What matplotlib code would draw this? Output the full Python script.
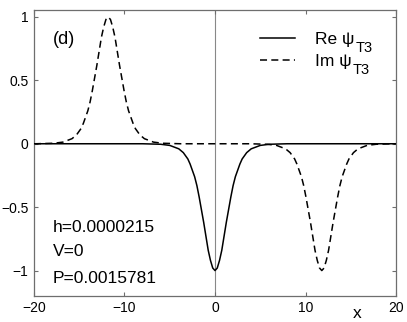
import matplotlib
matplotlib.use("Agg")
import matplotlib.pyplot as plt

# --- data ---
re_x = [-20, -8, -6, -5, -4, -3.5, -3, -2.75, -2.5, -2.25, -2, -1.75, -1.5, -1.25,
        -1, -0.75, -0.5, -0.25, 0, 0.25, 0.5, 0.75, 1, 1.25, 1.5, 1.75, 2, 2.25,
        2.5, 2.75, 3, 3.5, 4, 5, 6, 8, 20]
re_y = [0, 0, -0.004, -0.013, -0.04, -0.07, -0.12, -0.16, -0.21, -0.26, -0.33, -0.42,
        -0.52, -0.62, -0.73, -0.84, -0.92, -0.98, -1.0, -0.98, -0.92, -0.84, -0.73,
        -0.62, -0.52, -0.42, -0.33, -0.26, -0.21, -0.16, -0.12, -0.07, -0.04,
        -0.013, -0.004, 0, 0]

im_x = [-20, -19.8, -17.8, -16.8, -15.8, -15.3, -14.8, -14.55, -14.3, -14.05, -13.8,
        -13.55, -13.3, -13.05, -12.8, -12.55, -12.3, -12.05, -11.8, -11.55, -11.3,
        -11.05, -10.8, -10.55, -10.3, -10.05, -9.8, -9.55, -9.3, -9.05, -8.8, -8.3,
        -7.8, -6.8, -5.8, -3.8,
        3.8, 5.8, 6.8, 7.8, 8.3, 8.8, 9.05, 9.3, 9.55, 9.8, 10.05, 10.3, 10.55, 10.8,
        11.05, 11.3, 11.55, 11.8, 12.05, 12.3, 12.55, 12.8, 13.05, 13.3, 13.55, 13.8,
        14.05, 14.3, 14.55, 14.8, 15.3, 15.8, 16.8, 17.8, 19.8, 20]
im_y = [0, 0, 0.004, 0.013, 0.04, 0.07, 0.12, 0.16, 0.21, 0.26, 0.33, 0.42, 0.52,
        0.62, 0.73, 0.84, 0.92, 0.98, 1.0, 0.98, 0.92, 0.84, 0.73, 0.62, 0.52, 0.42,
        0.33, 0.26, 0.21, 0.16, 0.12, 0.07, 0.04, 0.013, 0.004, 0,
        0, -0.004, -0.013, -0.04, -0.07, -0.12, -0.16, -0.21, -0.26, -0.33, -0.42,
        -0.52, -0.62, -0.73, -0.84, -0.92, -0.98, -1.0, -0.98, -0.92, -0.84, -0.73,
        -0.62, -0.52, -0.42, -0.33, -0.26, -0.21, -0.16, -0.12, -0.07, -0.04,
        -0.013, -0.004, 0, 0]

x_ticks = [-20, -10, 0, 10, 20]
y_ticks = [-1, -0.5, 0, 0.5, 1]
y_tick_labels = ["\u22121", "\u22120.5", "0", "0.5", "1"]
x_tick_labels = ["\u221220", "\u221210", "0", "10", "20"]
params = ["h=0.0000215", "V=0", "P=0.0015781"]
legend_labels = ["Re \u03c8", "Im \u03c8"]
legend_sub = "T3"

plt.rcParams["font.family"] = ["Liberation Sans", "DejaVu Sans"]

fig = plt.figure(figsize=(4.07, 3.22), dpi=100)
ax = fig.add_axes([0.0835, 0.081, 0.8895, 0.888])

frame = "#6e6e6e"
ax.axvline(0, color="#888888", lw=0.8, zorder=1)
ax.plot(re_x, re_y, color="black", lw=1.1, label=legend_labels[0], zorder=3)
ax.plot(im_x, im_y, color="black", lw=1.1, dashes=(4.6, 2.8),
        label=legend_labels[1], zorder=2)

ax.set_xlim(-20, 20)
ax.set_ylim(-1.2, 1.055)
ax.set_xticks(x_ticks)
ax.set_xticklabels(x_tick_labels)
ax.set_yticks(y_ticks)
ax.set_yticklabels(y_tick_labels)
ax.tick_params(direction="in", length=3, width=0.8, color=frame, labelsize=10,
               top=True, right=True, pad=4)
for s in ax.spines.values():
    s.set_color(frame)
    s.set_linewidth(0.9)

ax.text(0.892, -0.06, "x", transform=ax.transAxes, ha="center", va="center",
        fontsize=12.5)
ax.text(-17.9, 0.825, "(d)", ha="left", va="center", fontsize=13)
for yv, t in zip([-0.66, -0.847, -1.061], params):
    ax.text(-17.9, yv, t, ha="left", va="center", fontsize=12.5)

leg = ax.legend(loc="upper left", bbox_to_anchor=(0.624, 0.922), frameon=False,
                fontsize=12.5, handlelength=2.0, handletextpad=1.2,
                labelspacing=0.38, borderpad=0, borderaxespad=0)

# subscripts after the legend labels
fig.canvas.draw()
for t in leg.get_texts():
    bb = t.get_window_extent()
    fig.text(bb.x1 / fig.bbox.width + 0.002, (bb.y0 - 1) / fig.bbox.height,
             legend_sub, fontsize=10.5, ha="left", va="center")

fig.savefig("out.png", dpi=100)
